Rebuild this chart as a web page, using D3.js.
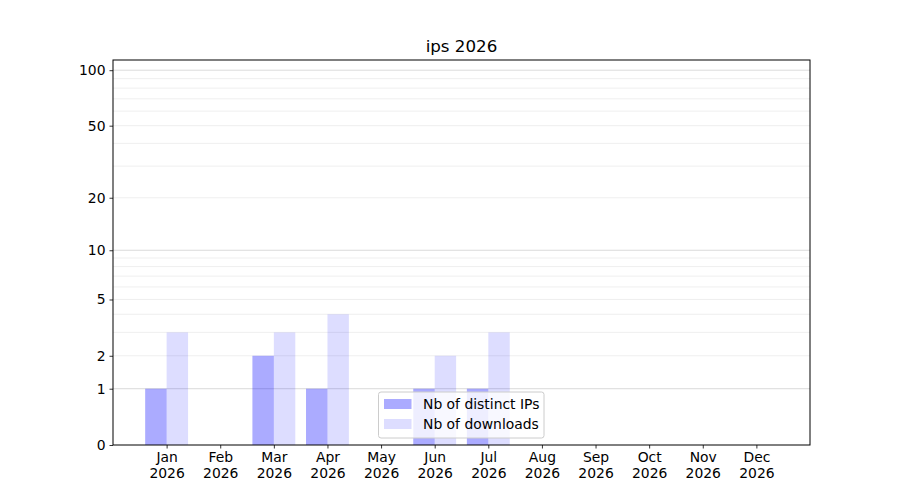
<!DOCTYPE html>
<html>
<head>
<meta charset="utf-8">
<script src="https://cdn.jsdelivr.net/npm/d3@7"></script>
<style>
  body { margin: 0; background: #fff; }
  text { font-family: "DejaVu Sans", sans-serif; fill: #000; }
  .tick text { font-size: 13.9px; }
  .plot-title { font-size: 16.7px; }
  .legend-text { font-size: 13.9px; }
</style>
</head>
<body>
<div id="chart"></div>
<script>
const months = ["Jan", "Feb", "Mar", "Apr", "May", "Jun", "Jul", "Aug", "Sep", "Oct", "Nov", "Dec"];
const year = "2026";
const ips = [1, 0, 2, 1, 0, 1, 1, 0, 0, 0, 0, 0];
const downloads = [3, 0, 3, 4, 0, 2, 3, 0, 0, 0, 0, 0];
const yTicks = [0, 1, 2, 5, 10, 20, 50, 100];
const yMajorGrid = [1, 10, 100];
const yMinorGrid = [2, 3, 4, 5, 6, 7, 8, 9, 20, 30, 40, 50, 60, 70, 80, 90];
const seriesNames = ["Nb of distinct IPs", "Nb of downloads"];

const W = 900, H = 500;
const margin = {top: 60, right: 90, bottom: 55, left: 113},
    width = W - margin.left - margin.right,
    height = H - margin.top - margin.bottom;

const svg = d3.select("#chart")
    .append("svg")
    .attr("width", W)
    .attr("height", H)
    .append("g")
    .attr("transform", `translate(${margin.left},${margin.top})`);

// x: one point per month, half a step of room on each end
const x = d3.scalePoint()
    .domain(months)
    .range([0, width])
    .padding(1);
const barW = x.step() * 0.4;

// y: symlog, same as log1p
const y = d3.scaleSymlog()
    .constant(1)
    .domain([0, 113.5])
    .range([height, 0]);

// grid
svg.append("g")
    .selectAll("line")
    .data(yMinorGrid)
    .join("line")
    .attr("x1", 0)
    .attr("x2", width)
    .attr("y1", d => y(d))
    .attr("y2", d => y(d))
    .attr("stroke", "#ebebeb")
    .attr("stroke-width", 0.8);

svg.append("g")
    .selectAll("line")
    .data(yMajorGrid)
    .join("line")
    .attr("x1", 0)
    .attr("x2", width)
    .attr("y1", d => y(d))
    .attr("y2", d => y(d))
    .attr("stroke", "#b0b0b0")
    .attr("stroke-opacity", 0.6)
    .attr("stroke-width", 0.8);

// bars
svg.append("g")
    .selectAll("rect")
    .data(months.map((m, i) => ({m: m, v: ips[i]})).filter(d => d.v > 0))
    .join("rect")
    .attr("x", d => x(d.m) - barW)
    .attr("y", d => y(d.v))
    .attr("width", barW)
    .attr("height", d => y(0) - y(d.v))
    .attr("fill", "blue")
    .attr("fill-opacity", 0.33);

svg.append("g")
    .selectAll("rect")
    .data(months.map((m, i) => ({m: m, v: downloads[i]})).filter(d => d.v > 0))
    .join("rect")
    .attr("x", d => x(d.m))
    .attr("y", d => y(d.v))
    .attr("width", barW)
    .attr("height", d => y(0) - y(d.v))
    .attr("fill", "blue")
    .attr("fill-opacity", 0.135);

// axes
const xAxis = svg.append("g")
    .attr("transform", `translate(0,${height})`)
    .call(d3.axisBottom(x).tickSizeInner(3.5).tickSizeOuter(0).tickPadding(4));
xAxis.select(".domain").remove();
xAxis.selectAll(".tick text").each(function(d) {
    const t = d3.select(this).text(null);
    t.append("tspan").attr("x", 0).attr("dy", "0.71em").text(d);
    t.append("tspan").attr("x", 0).attr("dy", "1.15em").text(year);
});

const yAxis = svg.append("g")
    .call(d3.axisLeft(y).tickValues(yTicks).tickFormat(d3.format("d")).tickSizeInner(3.5).tickSizeOuter(0).tickPadding(4));
yAxis.select(".domain").remove();

svg.selectAll(".tick line").attr("stroke", "#000").attr("stroke-width", 0.8);

// frame
svg.append("rect")
    .attr("x", 0)
    .attr("y", 0)
    .attr("width", width)
    .attr("height", height)
    .attr("fill", "none")
    .attr("stroke", "#000")
    .attr("stroke-width", 1);

// title
svg.append("text")
    .attr("class", "plot-title")
    .attr("x", width / 2)
    .attr("y", -8)
    .attr("text-anchor", "middle")
    .text("ips 2026");

// legend
const lg = svg.append("g")
    .attr("transform", `translate(${378.5 - margin.left},${392 - margin.top})`);
lg.append("rect")
    .attr("width", 165.5)
    .attr("height", 46)
    .attr("rx", 2.5)
    .attr("fill", "#fff")
    .attr("fill-opacity", 0.8)
    .attr("stroke", "#cccccc")
    .attr("stroke-width", 1);
const lgOpac = [0.33, 0.135];
seriesNames.forEach((name, i) => {
    lg.append("rect")
        .attr("x", 5.5)
        .attr("y", 7 + i * 20)
        .attr("width", 27.5)
        .attr("height", 10)
        .attr("fill", "blue")
        .attr("fill-opacity", lgOpac[i]);
    lg.append("text")
        .attr("class", "legend-text")
        .attr("x", 44.5)
        .attr("y", 17 + i * 20)
        .text(name);
});
</script>
</body>
</html>
